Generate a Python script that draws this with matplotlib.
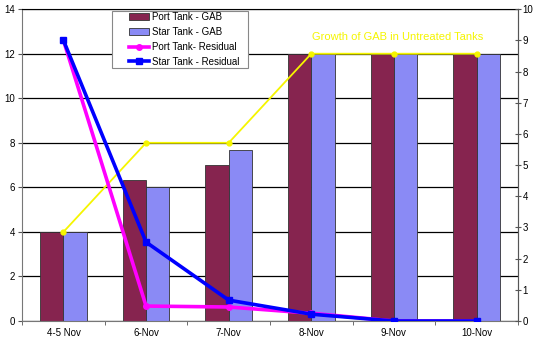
import numpy as np
import matplotlib.pyplot as plt
from matplotlib.patches import Rectangle

plt.rcParams['font.family'] = ['Liberation Sans', 'DejaVu Sans']

dates = ['4-5 Nov', '6-Nov', '7-Nov', '8-Nov', '9-Nov', '10-Nov']
port_gab = [4.0, 6.33, 7.0, 12.0, 12.0, 12.0]
star_gab = [4.0, 6.0, 7.67, 12.0, 12.0, 12.0]
growth_untreated = [4.0, 8.0, 8.0, 12.0, 12.0, 12.0]
port_residual = [9.0, 0.48, 0.45, 0.25, 0.0, 0.0]
star_residual = [9.0, 2.53, 0.67, 0.22, 0.0, 0.0]

x = np.arange(len(dates))
w = 0.283

fig = plt.figure(figsize=(5.4, 3.39), dpi=100)
ax = fig.add_axes([0.041, 0.053, 0.918, 0.920])

# GAB bars on the left axis
b1 = ax.bar(x - w / 2, port_gab, w, color='#86244f', edgecolor='#333333', linewidth=0.6,
            label='Port Tank - GAB', zorder=2)
b2 = ax.bar(x + w / 2, star_gab, w, color='#8a8af5', edgecolor='#333333', linewidth=0.6,
            label='Star Tank - GAB', zorder=2)
ax.plot(x, growth_untreated, color='#f5f500', linewidth=1.3, marker='o', markersize=3.5,
        zorder=3)

ax.set_xlim(-0.5, 5.5)
ax.set_ylim(0, 14)
ax.set_yticks(range(0, 15, 2))
ax.grid(axis='y', color='black', linewidth=0.9, zorder=0)
ax.set_axisbelow(True)
ax.set_xticks(x)
ax.set_xticklabels(dates)
ax.set_xticks(np.arange(-0.5, 6, 1), minor=True)
ax.tick_params(axis='x', which='major', length=0, labelsize=7, pad=5)
ax.tick_params(axis='x', which='minor', length=3, color='#555555')
ax.tick_params(axis='y', labelsize=7, length=3, color='#555555', pad=2)
for s in ax.spines.values():
    s.set_color('#777777')
ax.spines['top'].set_color('black')

# residual lines on the right axis
ax2 = ax.twinx()
l1, = ax2.plot(x, port_residual, color='#ff00ff', linewidth=2.6, marker='o', markersize=4,
               label='Port Tank- Residual', zorder=4)
l2, = ax2.plot(x, star_residual, color='#0000ff', linewidth=2.6, marker='s', markersize=4,
               label='Star Tank - Residual', zorder=5)
ax2.set_ylim(0, 10)
ax2.set_yticks(range(0, 11))
ax2.tick_params(axis='y', labelsize=7, length=5, direction='inout', color='#555555', pad=1)
for s in ax2.spines.values():
    s.set_visible(False)
ax2.spines['right'].set_visible(True)
ax2.spines['right'].set_color('#555555')

ax2.text(4.04, 9.1, 'Growth of GAB in Untreated Tanks', color='#f5f500', fontsize=8,
         ha='center', va='center')

# legend box with wide side margins
frame = Rectangle((0.181, 0.811), 0.275, 0.183, transform=ax2.transAxes,
                  facecolor='white', edgecolor='#888888', linewidth=0.8, zorder=9)
ax2.add_patch(frame)
leg = ax2.legend([b1, b2, l1, l2],
                 ['Port Tank - GAB', 'Star Tank - GAB', 'Port Tank- Residual', 'Star Tank - Residual'],
                 loc='upper left', bbox_to_anchor=(0.216, 0.99), fontsize=7, frameon=False,
                 borderpad=0, labelspacing=0.5, handlelength=2.05, handletextpad=0.25,
                 borderaxespad=0)
leg.set_zorder(10)

fig.savefig('out.png', dpi=100, facecolor='white')
